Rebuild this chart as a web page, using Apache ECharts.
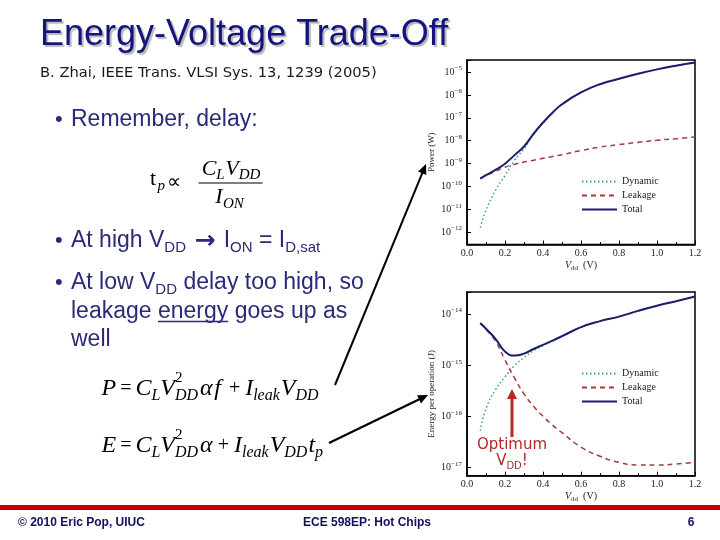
<!DOCTYPE html>
<html>
<head>
<meta charset="utf-8">
<script src="https://cdn.jsdelivr.net/npm/echarts@6/dist/echarts.min.js"></script>
<style>html,body{margin:0;padding:0;background:#fff}#c{width:720px;height:540px}</style>
</head>
<body>
<div id="c"></div>
<script>
// ---------------- data ----------------
const vdd = [0.07, 0.1, 0.15, 0.2, 0.25, 0.3, 0.35, 0.4, 0.45, 0.5, 0.6, 0.7, 0.8, 0.9, 1.0, 1.1, 1.2];
const powerDynamic = [1.6e-12, 8.9e-12, 6.8e-11, 3.0e-10, 1.41e-9, 4.4e-9, 1.86e-8, 6.0e-8, 1.66e-7, 3.9e-7, 1.29e-6, 2.95e-6, 5.1e-6, 8.5e-6, 1.32e-5, 1.91e-5, 2.63e-5];
const powerLeakage = [2.19e-10, 3.02e-10, 4.57e-10, 6.92e-10, 9.33e-10, 1.17e-9, 1.41e-9, 1.70e-9, 2.04e-9, 2.45e-9, 3.72e-9, 5.25e-9, 6.76e-9, 8.51e-9, 1.05e-8, 1.23e-8, 1.45e-8];
const powerTotal = [2.2e-10, 3.1e-10, 5.25e-10, 9.9e-10, 2.34e-9, 5.6e-9, 2.0e-8, 6.17e-8, 1.68e-7, 3.92e-7, 1.29e-6, 2.96e-6, 5.1e-6, 8.5e-6, 1.32e-5, 1.91e-5, 2.63e-5];
const energyDynamic = [5.25e-17, 1.41e-16, 3.31e-16, 5.89e-16, 9.8e-16, 1.41e-15, 1.91e-15, 2.40e-15, 2.95e-15, 3.63e-15, 5.5e-15, 7.24e-15, 8.9e-15, 1.15e-14, 1.45e-14, 1.78e-14, 2.19e-14];
const energyLeakage = [6.61e-15, 5.01e-15, 2.95e-15, 1.26e-15, 5.62e-16, 2.75e-16, 1.58e-16, 1.0e-16, 6.76e-17, 4.79e-17, 2.51e-17, 1.66e-17, 1.26e-17, 1.12e-17, 1.12e-17, 1.17e-17, 1.26e-17];
const energyTotal = [6.66e-15, 5.15e-15, 3.28e-15, 1.85e-15, 1.54e-15, 1.685e-15, 2.07e-15, 2.50e-15, 3.02e-15, 3.68e-15, 5.53e-15, 7.26e-15, 8.9e-15, 1.15e-14, 1.45e-14, 1.78e-14, 2.19e-14];
const seriesNames = ['Dynamic', 'Leakage', 'Total'];
const xTickLabels = ['0.0', '0.2', '0.4', '0.6', '0.8', '1.0', '1.2'];
const powerRangeExp = [-12.54, -4.47];
const energyRangeExp = [-17.16, -13.57];

// ---------------- styles ----------------
const SERIF = "'Liberation Serif', 'Times New Roman', serif";
const SANS = "'Liberation Sans', Arial, sans-serif";
const DEJA = "'DejaVu Sans', Verdana, sans-serif";
const TXT = '#2a2a78';
const AX = '#222';

const mctx = document.createElement('canvas').getContext('2d');
function fontStr(p) { return (p.italic ? 'italic ' : '') + (p.bold ? 'bold ' : '') + p.size + 'px ' + (p.family || SERIF); }
function tw(p) { mctx.font = fontStr(p); return mctx.measureText(p.t).width; }

function T(x, y, text, size, o) {
  o = o || {};
  const st = {
    text: text, fill: o.fill || '#000', fontFamily: o.family || SERIF, fontSize: size,
    fontStyle: o.italic ? 'italic' : 'normal', fontWeight: o.bold ? 'bold' : 'normal',
    textAlign: o.align || 'left', textVerticalAlign: 'middle'
  };
  if (o.rich) { st.rich = o.rich; st.lineHeight = o.lineHeight || size; }
  if (o.shadow) { st.textShadowColor = 'rgba(0,0,0,0.28)'; st.textShadowOffsetX = 2; st.textShadowOffsetY = 2; st.textShadowBlur = 1; }
  return { type: 'text', x: x, y: y, silent: true, z: 100, style: st };
}

function layout(x0, yc, pieces) {
  const els = []; let x = x0;
  pieces.forEach(p => {
    if (p.stack) {
      let w = 0;
      p.stack.forEach(q => { els.push(T(x, yc + (q.dy || 0), q.t, q.size, q)); w = Math.max(w, tw(q)); });
      x += w + (p.after || 0);
    } else {
      x += p.before || 0;
      els.push(T(x, yc + (p.dy || 0), p.t, p.size, p));
      x += tw(p) + (p.after || 0);
    }
  });
  return { els: els, end: x, width: x - x0 };
}
function centered(xc, yc, pieces) {
  const w = layout(0, 0, pieces).width;
  return layout(xc - w / 2, yc, pieces).els;
}
function line(x1, y1, x2, y2, color, w) {
  return { type: 'line', silent: true, z: 100, shape: { x1, y1, x2, y2 }, style: { stroke: color, lineWidth: w } };
}
function arrow(x1, y1, tx, ty, color, w, hl, hw) {
  const dx = tx - x1, dy = ty - y1, L = Math.sqrt(dx * dx + dy * dy);
  const ux = dx / L, uy = dy / L, nx = -uy, ny = ux;
  const bx = tx - ux * hl, by = ty - uy * hl;
  return [
    line(x1, y1, bx + ux, by + uy, color, w),
    { type: 'polygon', silent: true, z: 101, shape: { points: [[tx, ty], [bx + nx * hw, by + ny * hw], [bx - nx * hw, by - ny * hw]] }, style: { fill: color } }
  ];
}

// ---------------- slide text ----------------
const M = (t, size, extra) => Object.assign({ t: t, size: size, italic: true }, extra || {});
const R = (t, size, extra) => Object.assign({ t: t, size: size, italic: false }, extra || {});

const bulletRich = {
  s: { fontSize: 15, fontFamily: SANS, fill: TXT, lineHeight: 15, verticalAlign: 'bottom' },
  a: { fontSize: 25, fontFamily: DEJA, fontWeight: 'bold', fill: TXT, lineHeight: 28, padding: [0, 2, 0, 2] }
};
function bullet(x, y, text) {
  return T(x, y, text, 23, { family: SANS, fill: TXT, rich: bulletRich, lineHeight: 28 });
}

const g = [];
g.push(T(40, 35, 'Energy-Voltage Trade-Off', 36, { family: SANS, fill: '#14147f', shadow: true }));
g.push(T(40, 73, 'B. Zhai, IEEE Trans. VLSI Sys. 13, 1239 (2005)', 14.7, { family: DEJA, fill: '#1a1a1a' }));

[120, 241, 283].forEach(y => g.push(T(55, y, '\u2022', 22, { family: SANS, fill: TXT })));
g.push(bullet(71, 120, 'Remember, delay:'));
g.push(bullet(71, 241, 'At high V{s|DD} {a|\u2192} I{s|ON} = I{s|D,sat}'));
g.push(bullet(71, 283, 'At low V{s|DD} delay too high, so'));
g.push(bullet(71, 312, 'leakage energy goes up as'));
g.push(bullet(71, 340, 'well'));
const ux0 = 71 + tw({ t: 'leakage ', size: 23, family: SANS });
const ux1 = ux0 + tw({ t: 'energy', size: 23, family: SANS });
g.push(line(ux0, 321.5, ux1, 321.5, TXT, 1.5));

// t_p ∝ C_L V_DD / I_ON
g.push(T(150, 179.5, 't', 22, {}));
g.push(T(157.5, 186, 'p', 15, { italic: true }));
g.push(T(167, 182.5, '\u221D', 20, {}));
centered(231, 169.3, [M('C', 22), M('L', 15, { dy: 6 }), M('V', 22, { before: 0.5 }), M('DD', 15, { dy: 6 })]).forEach(e => g.push(e));
g.push(line(198.5, 183, 262.5, 183, '#000', 1.2));
centered(229.5, 197.6, [M('I', 22), M('ON', 15, { dy: 6, before: 0.5 })]).forEach(e => g.push(e));

// P = C_L V^2_DD α f + I_leak V_DD
const SUB = 7, SUP = -10.5;
layout(101.5, 388.5, [
  M('P', 24), R('=', 20, { before: 4, after: 4 }), M('C', 24), M('L', 16, { dy: SUB }), M('V', 24),
  { stack: [R('2', 15, { dy: SUP }), M('DD', 16, { dy: SUB })], after: 2 },
  M('\u03B1', 24), M('f', 24, { before: 1.5, after: 3 }), R('+', 20, { before: 5, after: 5 }),
  M('I', 24), M('leak', 16, { dy: SUB, after: 1 }), M('V', 24), M('DD', 16, { dy: SUB })
]).els.forEach(e => g.push(e));

// E = C_L V^2_DD α + I_leak V_DD t_p
layout(101.5, 445.5, [
  M('E', 24), R('=', 20, { before: 4, after: 4 }), M('C', 24), M('L', 16, { dy: SUB }), M('V', 24),
  { stack: [R('2', 15, { dy: SUP }), M('DD', 16, { dy: SUB })], after: 2 },
  M('\u03B1', 24), R('+', 20, { before: 5, after: 5 }),
  M('I', 24), M('leak', 16, { dy: SUB, after: 1 }), M('V', 24), M('DD', 16, { dy: SUB, after: 1 }),
  M('t', 24), M('p', 16, { dy: SUB })
]).els.forEach(e => g.push(e));

// pointer arrows
arrow(335, 385, 426, 164, '#000', 2, 10, 4.5).forEach(e => g.push(e));
arrow(329, 443, 428, 395, '#000', 2.2, 10, 4.5).forEach(e => g.push(e));

// Optimum annotation
const RED = '#b02a2a';
arrow(512, 437, 512, 389, RED, 3, 10, 5).forEach(e => g.push(e));
g.push(T(512, 445, 'Optimum', 15, { family: DEJA, fill: RED, align: 'center' }));
g.push(T(512, 461, 'V{s|DD}!', 15, { family: DEJA, fill: RED, align: 'center', lineHeight: 20,
  rich: { s: { fontSize: 10, fontFamily: DEJA, fill: RED, lineHeight: 10, verticalAlign: 'bottom' } } }));

// footer
g.push({ type: 'rect', silent: true, z: 90, shape: { x: 0, y: 505, width: 720, height: 5 }, style: { fill: '#c80000' } });
const FOOT = '#101060';
g.push(T(18, 523, '\u00A9 2010 Eric Pop, UIUC', 12, { family: SANS, bold: true, fill: FOOT }));
g.push(T(367, 523, 'ECE 598EP: Hot Chips', 12, { family: SANS, bold: true, fill: FOOT, align: 'center' }));
g.push(T(691, 523, '6', 12, { family: SANS, bold: true, fill: FOOT, align: 'center' }));

// ---------------- chart ----------------
function xAxisFor(gi) {
  return {
    type: 'value', gridIndex: gi, min: 0, max: 1.2, interval: 0.2,
    axisLine: { show: true, onZero: false, lineStyle: { color: '#000', width: 1.5 } },
    axisTick: { show: true, inside: true, length: 4, lineStyle: { color: '#000', width: 1 } },
    minorTick: { show: true, splitNumber: 2, length: 2.5, lineStyle: { color: '#000', width: 1 } },
    splitLine: { show: false }, minorSplitLine: { show: false },
    axisLabel: { margin: 4, color: AX, fontFamily: SERIF, fontSize: 10, formatter: v => xTickLabels[Math.round(v / 0.2)] },
    name: '{i|V}{s|dd}  (V)', nameLocation: 'middle', nameGap: 15,
    nameTextStyle: {
      color: AX, fontFamily: SERIF, fontSize: 10, lineHeight: 12,
      rich: {
        i: { fontStyle: 'italic', fontFamily: SERIF, fontSize: 10, color: AX, lineHeight: 12 },
        s: { fontFamily: SERIF, fontSize: 7, color: AX, lineHeight: 7, verticalAlign: 'bottom' }
      }
    }
  };
}
function expLabel(v) {
  const e = Math.log10(v), r = Math.round(e);
  if (Math.abs(e - r) > 1e-3) return '';
  return '{b|10}{e|\u2212' + Math.abs(r) + '}';
}
function yAxisFor(gi, rangeExp, name, namePad) {
  return {
    type: 'log', logBase: 10, gridIndex: gi,
    min: Math.pow(10, rangeExp[0]), max: Math.pow(10, rangeExp[1]),
    axisLine: { show: true, lineStyle: { color: '#000', width: 1.5 } },
    axisTick: { show: true, inside: true, length: 4, lineStyle: { color: '#000', width: 1 } },
    splitLine: { show: false },
    axisLabel: {
      margin: 5, color: AX, fontFamily: SERIF, fontSize: 10, formatter: expLabel,
      rich: {
        b: { fontSize: 10, fontFamily: SERIF, color: AX, lineHeight: 14 },
        e: { fontSize: 7, fontFamily: SERIF, color: AX, lineHeight: 7, verticalAlign: 'top' }
      }
    },
    name: name, nameLocation: 'middle', nameGap: 31,
    nameTextStyle: { color: AX, fontFamily: SERIF, fontSize: 9, padding: namePad }
  };
}
const lineStyles = [
  { color: '#3a9a9a', width: 1.5, type: [1.5, 2.5] },
  { color: '#a23c3c', width: 1.5, type: [5, 4] },
  { color: '#1d1d6e', width: 2 }
];
function lineSeries(k, idx, values) {
  return {
    type: 'line', name: seriesNames[k], xAxisIndex: idx, yAxisIndex: idx,
    data: vdd.map((v, i) => [v, values[i]]),
    symbol: 'none', showSymbol: false, smooth: 0.5, silent: true,
    lineStyle: lineStyles[k], itemStyle: { color: lineStyles[k].color }, z: 2 + k
  };
}
const legendBase = {
  data: seriesNames, orient: 'vertical', itemWidth: 35, itemHeight: 10, itemGap: 4, selectedMode: false,
  itemStyle: { opacity: 0, color: 'rgba(0,0,0,0)', borderWidth: 0 },
  textStyle: { fontFamily: SERIF, fontSize: 10, color: AX }
};

const chart = echarts.init(document.getElementById('c'));
chart.setOption({
  animation: false,
  backgroundColor: '#fff',
  grid: [
    { left: 467, top: 60, width: 228, height: 184.5, show: true, borderColor: '#000', borderWidth: 1.5 },
    { left: 467, top: 292, width: 228, height: 183.7, show: true, borderColor: '#000', borderWidth: 1.5 }
  ],
  xAxis: [xAxisFor(0), xAxisFor(1)],
  yAxis: [
    yAxisFor(0, powerRangeExp, 'Power (W)', [0, 0, 0, 0]),
    yAxisFor(1, energyRangeExp, 'Energy per operation (J)', [0, 20, 0, 0])
  ],
  legend: [
    Object.assign({ left: 576, top: 171.5 }, legendBase),
    Object.assign({ left: 576, top: 363.5 }, legendBase)
  ],
  series: [
    lineSeries(0, 0, powerDynamic), lineSeries(1, 0, powerLeakage), lineSeries(2, 0, powerTotal),
    lineSeries(0, 1, energyDynamic), lineSeries(1, 1, energyLeakage), lineSeries(2, 1, energyTotal)
  ],
  graphic: { elements: g }
});
</script>
</body>
</html>
